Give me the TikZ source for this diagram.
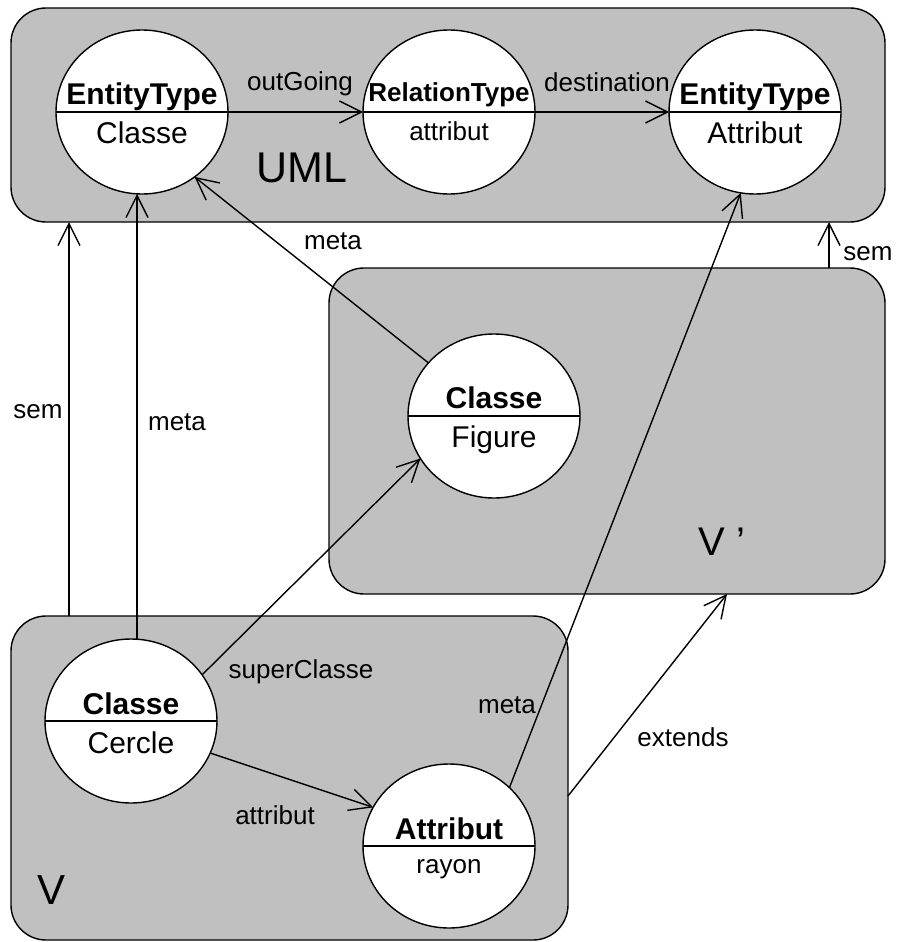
\documentclass[tikz,border=0pt]{standalone}
\usepackage{fontspec}
\setmainfont{Liberation Sans}
\usetikzlibrary{arrows.meta}
\usetikzlibrary{shapes.geometric}
\definecolor{pkggray}{RGB}{192,192,192}

\begin{document}
\begin{tikzpicture}[
		x=1pt, y=1pt, line width=1.4pt,
		pkg/.style={rectangle, draw, fill=pkggray, rounded corners=35pt, inner sep=0pt, outer sep=0pt},
		obj/.style={ellipse, draw, fill=white, inner sep=0pt, outer sep=0pt, minimum width=172pt, minimum height=164pt},
		head/.style={anchor=base, inner sep=0pt, font=\bfseries\fontsize{30}{34}\selectfont},
		body/.style={anchor=base, inner sep=0pt, font=\fontsize{30}{34}\selectfont},
		small/.style={anchor=base, inner sep=0pt, font=\fontsize{26}{30}\selectfont},
		big/.style={anchor=base, inner sep=0pt, font=\fontsize{43}{48}\selectfont},
		link/.style={-{Straight Barb[length=22pt, width=22pt]}}
	]
	\useasboundingbox (0,0) rectangle (897,-942);

	% packages
	\node[pkg, minimum width=874pt, minimum height=214pt] (uml) at (448,-115) {};
	\node[pkg, minimum width=556pt, minimum height=326pt] (vp) at (607,-431) {};
	\node[pkg, minimum width=557pt, minimum height=324pt] (v) at (289.5,-778) {};

	% objects
	\node[obj] (entc) at (142,-112) {};
	\node[obj] (rel) at (449,-112) {};
	\node[obj] (enta) at (755,-112) {};
	\node[obj] (figure) at (494,-416) {};
	\node[obj] (cercle) at (131,-721) {};
	\node[obj] (rayon) at (449,-846) {};

	\draw (entc.west) -- (entc.east);
	\draw (rel.west) -- (rel.east);
	\draw (enta.west) -- (enta.east);
	\draw (figure.west) -- (figure.east);
	\draw (cercle.west) -- (cercle.east);
	\draw (rayon.west) -- (rayon.east);

	\node[head] (entcT) at ([yshift=8pt]entc.center) {EntityType};
	\node[body] (entcB) at ([yshift=-31pt]entc.center) {Classe};
	\node[head, font=\bfseries\fontsize{26}{30}\selectfont] (relT) at ([yshift=11pt]rel.center) {RelationType};
	\node[small] (relB) at ([yshift=-28pt]rel.center) {attribut};
	\node[head] (entaT) at ([yshift=8pt]enta.center) {EntityType};
	\node[body] (entaB) at ([yshift=-31pt]enta.center) {Attribut};
	\node[head] (figureT) at ([yshift=8pt]figure.center) {Classe};
	\node[body] (figureB) at ([yshift=-31pt]figure.center) {Figure};
	\node[head] (cercleT) at ([yshift=7pt]cercle.center) {Classe};
	\node[body] (cercleB) at ([yshift=-32pt]cercle.center) {Cercle};
	\node[head] (rayonT) at ([yshift=7pt]rayon.center) {Attribut};
	\node[small] (rayonB) at ([yshift=-27pt]rayon.center) {rayon};

	% links
	\coordinate (semL) at (69,0);
	\coordinate (metaL) at (137,0);
	\coordinate (semR) at (829,0);

	\draw[link] (entc.east) -- (rel.west);
	\draw[link] (rel.east) -- (enta.west);
	\draw[link] (v.north -| semL) -- (uml.south -| semL);
	\draw[link] (cercle.north -| metaL) -- (entc.south -| metaL);
	\draw[link] (vp.north -| semR) -- (uml.south -| semR);
	\draw[link] (figure.141) -- (entc.309);
	\draw[link] (cercle.33) -- (figure.210);
	\draw[link] (cercle.-22) -- (rayon.153);
	\draw[link] (rayon.44) -- (enta.260);
	\draw[link] ([yshift=-18pt]v.east) -- ([xshift=120pt]vp.south);

	% labels
	\node[small] (lOut) at (300,-90) {outGoing};
	\node[small] (lDest) at (607,-91) {destination};
	\node[big] (lUml) at (302,-182) {UML};
	\node[small] (lMetaT) at (333,-249) {meta};
	\node[small] (lSemL) at (38,-418) {sem};
	\node[small] (lMetaL) at (177,-430) {meta};
	\node[small] (lSemR) at (868,-260) {sem};
	\node[small] (lSuper) at (301,-678) {superClasse};
	\node[small] (lMetaR) at (507,-713) {meta};
	\node[small] (lAttr) at (275,-824) {attribut};
	\node[small] (lExt) at (683,-746) {extends};
	\node[big, font=\fontsize{42}{48}\selectfont] (lV) at (52,-904) {V};
	\node[big, font=\fontsize{40}{46}\selectfont] (lVp) at (722,-555) {V ’};
\end{tikzpicture}
\end{document}
